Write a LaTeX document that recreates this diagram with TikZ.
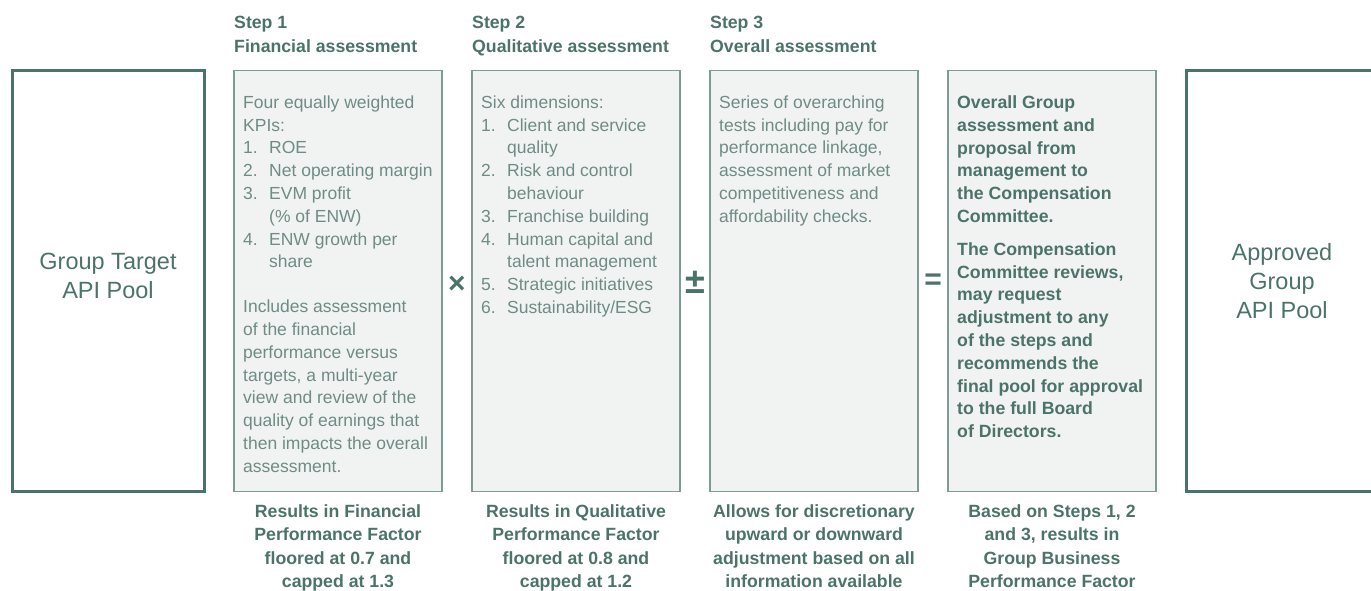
\documentclass[tikz,border=0pt]{standalone}
\usepackage{fontspec}
\setmainfont{Liberation Sans}
\usetikzlibrary{positioning,calc}
\definecolor{csgreen}{HTML}{4B7369}
\definecolor{csbody}{HTML}{6E8C85}
\definecolor{csline}{HTML}{7D9C95}
\definecolor{csfill}{HTML}{F1F3F2}
\newcommand{\itm}[1]{\makebox[26pt][l]{#1}}
\newcommand{\cont}{\hspace*{26pt}}

\begin{document}
\begin{tikzpicture}[x=1pt,y=-1pt]
		\tikzstyle{poolbox} = [rectangle, minimum width=192pt, minimum height=421pt, draw=csgreen, line width=3pt, outer sep=0pt, inner sep=0pt];
		\tikzstyle{stepbox} = [rectangle, minimum width=208pt, minimum height=421pt, draw=csline, line width=1.6pt, fill=csfill, outer sep=0pt, inner sep=0pt];
		\tikzstyle{pooltext} = [align=center, inner sep=0pt, text=csgreen, font=\fontsize{23.5}{29}\selectfont];
		\tikzstyle{steptext} = [anchor=north west, align=left, inner sep=0pt, text=csbody, font=\fontsize{17.5}{22.8}\selectfont];
		\tikzstyle{stepbold} = [anchor=north west, align=left, inner sep=0pt, text=csgreen, font=\fontsize{17.7}{22.8}\selectfont\bfseries];
		\tikzstyle{steptitle} = [anchor=north west, align=left, inner sep=0pt, text=csgreen, font=\fontsize{17.7}{24}\selectfont\bfseries];
		\tikzstyle{result} = [align=center, inner sep=0pt, text=csgreen, font=\fontsize{17.7}{23.5}\selectfont\bfseries];
		\tikzstyle{opsign} = [inner sep=0pt, text=csgreen, font=\fontsize{30}{30}\selectfont\bfseries];
		\useasboundingbox (0,0) rectangle (1371,591);
		% boxes
		\node (gtarget) [poolbox] at (108,281) {};
		\node (fin) [stepbox, right=30pt of gtarget] {};
		\node (qual) [stepbox, right=30pt of fin] {};
		\node (overall) [stepbox, right=30pt of qual] {};
		\node (final) [stepbox, right=30pt of overall] {};
		\node (approved) [poolbox, right=30pt of final] {};
		\node (gtargetd) [pooltext] at ([yshift=5pt]gtarget.center) {Group Target\\API Pool};
		\node (approvedd) [pooltext] at (approved.center) {Approved\\Group\\API Pool};
		% step titles
		\node (fintitle) [steptitle] at ([yshift=54.5pt]fin.north west) {Step 1\\Financial assessment};
		\node (qualtitle) [steptitle] at ([yshift=54.5pt]qual.north west) {Step 2\\Qualitative assessment};
		\node (overalltitle) [steptitle] at ([yshift=54.5pt]overall.north west) {Step 3\\Overall assessment};
		% box contents
		\node (fintext) [steptext] at ([xshift=9pt,yshift=-25pt]fin.north west) {Four equally weighted\\
			KPIs:\\
			\itm{1.}ROE\\
			\itm{2.}Net operating margin\\
			\itm{3.}EVM profit\\
			\cont(\% of ENW)\\
			\itm{4.}ENW growth per\\
			\cont share\\[22pt]
			Includes assessment\\
			of the financial\\
			performance versus\\
			targets, a multi-year\\
			view and review of the\\
			quality of earnings that\\
			then impacts the overall\\
			assessment.};
		\node (qualtext) [steptext] at ([xshift=9pt,yshift=-25pt]qual.north west) {Six dimensions:\\
			\itm{1.}Client and service\\
			\cont quality\\
			\itm{2.}Risk and control\\
			\cont behaviour\\
			\itm{3.}Franchise building\\
			\itm{4.}Human capital and\\
			\cont talent management\\
			\itm{5.}Strategic initiatives\\
			\itm{6.}Sustainability/ESG};
		\node (overalltext) [steptext] at ([xshift=9pt,yshift=-25pt]overall.north west) {Series of overarching\\
			tests including pay for\\
			performance linkage,\\
			assessment of market\\
			competitiveness and\\
			affordability checks.};
		\node (finaltext) [stepbold] at ([xshift=9pt,yshift=-25pt]final.north west) {Overall Group\\
			assessment and\\
			proposal from\\
			management to\\
			the Compensation\\
			Committee.\\[10pt]
			The Compensation\\
			Committee reviews,\\
			may request\\
			adjustment to any\\
			of the steps and\\
			recommends the\\
			final pool for approval\\
			to the full Board\\
			of Directors.};
		% results below the boxes
		\node (finres) [result, below=12.5pt of fin] {Results in Financial\\Performance Factor\\floored at 0.7 and\\capped at 1.3};
		\node (qualres) [result, below=12.5pt of qual] {Results in Qualitative\\Performance Factor\\floored at 0.8 and\\capped at 1.2};
		\node (overallres) [result, below=12.5pt of overall] {Allows for discretionary\\upward or downward\\adjustment based on all\\information available};
		\node (finalres) [result, below=12.5pt of final] {Based on Steps 1, 2\\and 3, results in\\Group Business\\Performance Factor};
		% operators
		\node (times) [opsign] at ($(fin.east)!0.5!(qual.west)+(0,4)$) {×};
		\node (plusminus) [opsign, font=\fontsize{36}{36}\selectfont\bfseries] at ($(qual.east)!0.5!(overall.west)+(0,1)$) {±};
		\node (equals) [opsign] at ($(overall.east)!0.5!(final.west)+(0,1)$) {=};
	\end{tikzpicture}
\end{document}
